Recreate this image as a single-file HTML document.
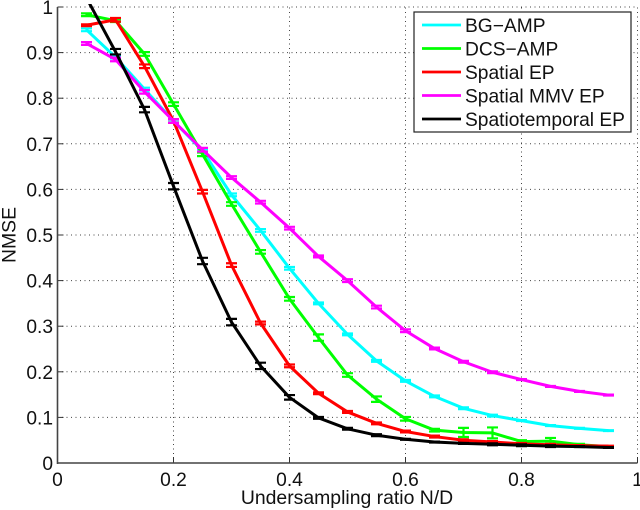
<!DOCTYPE html>
<html>
<head>
<meta charset="utf-8">
<title>NMSE vs undersampling ratio</title>
<style>
html,body{margin:0;padding:0;background:#fff;width:640px;height:510px;overflow:hidden}
svg{display:block;font-family:"Liberation Sans",sans-serif;fill:#111;filter:blur(0.35px)}
</style>
</head>
<body>
<svg id="chart" width="640" height="510" viewBox="0 0 640 510" xmlns="http://www.w3.org/2000/svg">
  <defs><clipPath id="plot-clip"><rect x="50" y="4" width="590" height="462"></rect></clipPath></defs>
  <g id="grid"></g>
  <g id="axes"></g>
  <g id="series" clip-path="url(#plot-clip)"></g>
  <text x="347" y="504" font-size="19.4" text-anchor="middle">Undersampling ratio N/D</text>
  <text transform="translate(15.5,235) rotate(-90)" font-size="19.4" text-anchor="middle">NMSE</text>
  <g>
    <rect x="414" y="12" width="217" height="120" fill="#fff" stroke="#222" stroke-width="1.2"></rect>
    <g>
      <line x1="422" x2="461" y1="25" y2="25" stroke="#00ffff" stroke-width="2.8"></line>
      <text x="465" y="32" font-size="19.2">BG−AMP</text>
    </g>
    <g>
      <line x1="422" x2="461" y1="48.5" y2="48.5" stroke="#00ff00" stroke-width="2.8"></line>
      <text x="465" y="55.5" font-size="19.2">DCS−AMP</text>
    </g>
    <g>
      <line x1="422" x2="461" y1="72" y2="72" stroke="#ff0000" stroke-width="2.8"></line>
      <text x="465" y="79" font-size="19.2">Spatial EP</text>
    </g>
    <g>
      <line x1="422" x2="461" y1="95.5" y2="95.5" stroke="#ff00ff" stroke-width="2.8"></line>
      <text x="465" y="102.5" font-size="19.2">Spatial MMV EP</text>
    </g>
    <g>
      <line x1="422" x2="461" y1="119" y2="119" stroke="#000000" stroke-width="2.8"></line>
      <text x="465" y="126" font-size="19.2">Spatiotemporal EP</text>
    </g>
  </g>
</svg>
<script>
const xValues = [0.05,0.1,0.15,0.2,0.25,0.3,0.35,0.4,0.45,0.5,0.55,0.6,0.65,0.7,0.75,0.8,0.85,0.9,0.95];
const bgAmp = [0.95,0.89,0.82,0.75,0.685,0.588,0.51,0.427,0.35,0.282,0.224,0.18,0.146,0.12,0.104,0.093,0.082,0.076,0.071];
const dcsAmp = [0.983,0.97,0.897,0.787,0.677,0.568,0.463,0.36,0.275,0.193,0.14,0.097,0.072,0.067,0.066,0.047,0.048,0.04,0.036];
const spatialEp = [0.96,0.972,0.87,0.75,0.595,0.434,0.307,0.213,0.153,0.112,0.087,0.069,0.058,0.05,0.046,0.042,0.04,0.038,0.037];
const spatialMmvEp = [0.92,0.885,0.814,0.75,0.687,0.626,0.572,0.515,0.453,0.4,0.342,0.29,0.251,0.222,0.199,0.183,0.168,0.157,0.149];
const spatiotemporalEp = [1.02,0.902,0.775,0.607,0.443,0.309,0.213,0.144,0.099,0.075,0.061,0.052,0.046,0.043,0.041,0.039,0.037,0.036,0.034];
const bgAmpErr = [0.003,0.003,0.003,0.003,0.003,0.003,0.003,0.003,0.002,0.002,0.002,0.002,0.002,0.002,0.002,0.001,0.001,0.001,0.001];
const dcsAmpErr = [0.003,0.003,0.004,0.004,0.004,0.004,0.004,0.004,0.007,0.004,0.006,0.004,0.003,0.01,0.012,0.003,0.007,0.002,0.001];
const spatialEpErr = [0.002,0.004,0.004,0.004,0.004,0.004,0.003,0.003,0.002,0.002,0.002,0.002,0.002,0.002,0.002,0.002,0.002,0.001,0.001];
const spatialMmvEpErr = [0.003,0.004,0.004,0.004,0.004,0.003,0.003,0.003,0.002,0.003,0.003,0.003,0.002,0.002,0.002,0.001,0.001,0.001,0.001];
const spatiotemporalEpErr = [0.005,0.006,0.006,0.007,0.007,0.007,0.007,0.005,0.002,0.002,0.002,0.001,0.001,0.001,0.002,0.002,0.002,0.001,0.001];
const xTicks = [0,0.2,0.4,0.6,0.8,1];
const yTicks = [0,0.1,0.2,0.3,0.4,0.5,0.6,0.7,0.8,0.9,1];

const NS = 'http://www.w3.org/2000/svg';
const sx = v => 57.5 + v * 580;
const sy = v => 463 - v * 456;

function make(parent, tag, attrs, text) {
  const el = document.createElementNS(NS, tag);
  for (const k in attrs) el.setAttribute(k, attrs[k]);
  if (text !== undefined) el.textContent = text;
  parent.appendChild(el);
  return el;
}

const gridG = document.getElementById('grid');
const axesG = document.getElementById('axes');
const seriesG = document.getElementById('series');

xTicks.forEach(t => {
  if (t > 0) {
    const g = make(gridG, 'line', {x1: sx(t), x2: sx(t), y1: sy(0), y2: sy(1), stroke: '#444', 'stroke-width': 1, 'stroke-dasharray': '1 3.5'});
    
    
  }
  const tick = make(axesG, 'line', {x1: sx(t), x2: sx(t), y1: sy(0), y2: sy(0) - 6, stroke: '#333', 'stroke-width': 1});
  
  
  const label = make(axesG, 'text', {x: sx(t), y: 486, 'font-size': 19.2, 'text-anchor': 'middle'}, String(t));
  
  
});

yTicks.forEach(t => {
  if (t > 0) {
    const g = make(gridG, 'line', {x1: sx(0), x2: sx(1), y1: sy(t), y2: sy(t), stroke: '#444', 'stroke-width': 1, 'stroke-dasharray': '1 3.5'});
    
    
  }
  const tick = make(axesG, 'line', {x1: sx(0), x2: sx(0) + 6, y1: sy(t), y2: sy(t), stroke: '#333', 'stroke-width': 1});
  
  
  const label = make(axesG, 'text', {x: 53, y: sy(t) + 7, 'font-size': 19.2, 'text-anchor': 'end'}, String(t));
  
  
});

const yAxisLine = make(axesG, 'line', {x1: sx(0), x2: sx(0), y1: sy(1), y2: sy(0) + 1, stroke: '#444', 'stroke-width': 1.6});


const xAxisLine = make(axesG, 'line', {x1: sx(0), x2: sx(1), y1: sy(0), y2: sy(0), stroke: '#444', 'stroke-width': 1.6});



function drawSeries(name, color, values, errs) {
  const group = make(seriesG, 'g', {});
  
  
  const pts = values.map((v, i) => sx(xValues[i]) + ',' + sy(v)).join(' ');
  const line = make(group, 'polyline', {points: pts, fill: 'none', stroke: color, 'stroke-width': 3, 'stroke-linejoin': 'round'});
  
  
  values.forEach((v, i) => {
    const x = sx(xValues[i]);
    const e = errs[i];
    const d = 'M' + x + ' ' + sy(v + e) + 'V' + sy(v - e) +
      'M' + (x - 5.5) + ' ' + sy(v + e) + 'H' + (x + 5.5) +
      'M' + (x - 5.5) + ' ' + sy(v - e) + 'H' + (x + 5.5);
    const bar = make(group, 'path', {d: d, fill: 'none', stroke: color, 'stroke-width': 2.2});
    
    
  });
}

drawSeries('series-bg-amp', '#00ffff', bgAmp, bgAmpErr);
drawSeries('series-dcs-amp', '#00ff00', dcsAmp, dcsAmpErr);
drawSeries('series-spatial-ep', '#ff0000', spatialEp, spatialEpErr);
drawSeries('series-spatial-mmv-ep', '#ff00ff', spatialMmvEp, spatialMmvEpErr);
drawSeries('series-spatiotemporal-ep', '#000000', spatiotemporalEp, spatiotemporalEpErr);
</script>
</body>
</html>
